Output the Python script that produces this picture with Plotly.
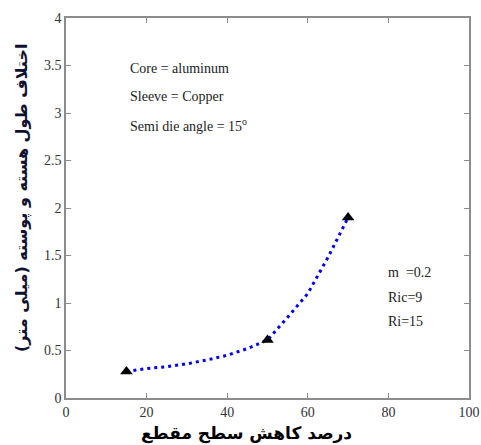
import plotly.graph_objects as go

# data
curve_x = [15, 20, 25, 30, 35, 40, 45, 50, 55, 60, 65, 70]
curve_y = [0.28, 0.31, 0.33, 0.36, 0.40, 0.45, 0.52, 0.61, 0.85, 1.10, 1.48, 1.90]
marker_x = [15, 50, 70]
marker_y = [0.28, 0.61, 1.90]
x_ticks = [0, 20, 40, 60, 80, 100]
y_ticks = [0, 0.5, 1, 1.5, 2, 2.5, 3, 3.5, 4]
y_tick_text = ["0", "0.5", "1", "1.5", "2", "2.5", "3", "3.5", "4"]
notes_left = ["Core = aluminum", "Sleeve = Copper", "Semi die angle = 15<sup>o</sup>"]
notes_left_y = [3.47, 3.17, 2.87]
notes_right = ["m  =0.2", "Ric=9", "Ri=15"]
notes_right_y = [1.32, 1.06, 0.81]
x_title = "درصد کاهش سطح مقطع"
y_title = "اختلاف طول هسته و پوسته (میلی متر)"

serif = "Liberation Serif, Times New Roman, serif"

fig = go.Figure()
fig.add_trace(go.Scatter(
    x=curve_x, y=curve_y, mode="lines",
    line=dict(color="#0000ff", width=3, dash="3px,4px"),
    showlegend=False, hoverinfo="skip"))
fig.add_trace(go.Scatter(
    x=marker_x, y=marker_y, mode="markers",
    marker=dict(symbol="triangle-up", size=11, color="black"),
    showlegend=False))

for t, yy in zip(notes_left, notes_left_y):
    fig.add_annotation(x=15.5, y=yy, text=t, showarrow=False, xanchor="left",
                       yanchor="middle", font=dict(family=serif, size=14, color="#222"))
for t, yy in zip(notes_right, notes_right_y):
    fig.add_annotation(x=79.5, y=yy, text=t, showarrow=False, xanchor="left",
                       yanchor="middle", font=dict(family=serif, size=14, color="#222"))

fig.add_annotation(xref="paper", yref="paper", x=0.449, y=0, yshift=-35,
                   text="<b>" + x_title + "</b>", showarrow=False,
                   xanchor="center", yanchor="middle",
                   font=dict(family="DejaVu Sans", size=17, color="black"))
fig.add_annotation(xref="paper", yref="paper", x=0, xshift=-44, y=0.5, yshift=10,
                   text="<b>" + y_title + "</b>", showarrow=False, textangle=-90,
                   xanchor="center", yanchor="middle",
                   font=dict(family="DejaVu Sans", size=16, color="#101030"))

axis_common = dict(showline=True, linecolor="#8c8c8c", linewidth=1.5, mirror="allticks",
                   ticks="inside", ticklen=5, tickcolor="#8c8c8c", tickwidth=1.2,
                   showgrid=False, zeroline=False, automargin=False,
                   tickfont=dict(family=serif, size=14, color="#333"))

fig.update_layout(
    width=481, height=445,
    margin=dict(l=66, r=12, t=18, b=47),
    paper_bgcolor="white", plot_bgcolor="white",
    xaxis=dict(range=[0, 100], tickvals=x_ticks, **axis_common),
    yaxis=dict(range=[0, 4], tickvals=y_ticks, ticktext=y_tick_text, **axis_common),
)

fig.write_html("out.html")
